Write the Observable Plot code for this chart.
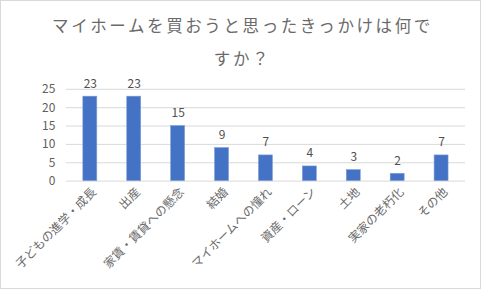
<!DOCTYPE html>
<html>
<head>
<meta charset="utf-8">
<script src="https://cdn.jsdelivr.net/npm/d3@7"></script>
<script src="https://cdn.jsdelivr.net/npm/@observablehq/plot@0.6"></script>
<style>
  html, body { margin: 0; padding: 0; background: #fff; }
  #chart { position: relative; width: 479px; height: 287px; border: 1px solid #d9d9d9; background: #fff; overflow: hidden; }
  #title { position: absolute; left: 2px; top: 8px; width: 479px; text-align: center; font-family: "Noto Sans CJK JP", sans-serif; font-size: 16.5px; line-height: 33px; color: #6a6a6a; letter-spacing: 2.6px; }
  #plot { position: absolute; left: -1px; top: -1px; }
</style>
</head>
<body>
<div id="chart"><div id="plot"></div><div id="title">マイホームを買おうと思ったきっかけは何で<br>すか？</div></div>
<script>
const categories = ["子どもの進学・成長", "出産", "家賃・賃貸への懸念", "結婚", "マイホームへの憧れ", "資産・ローン", "土地", "実家の老朽化", "その他"];
const values = [23, 23, 15, 9, 7, 4, 3, 2, 7];
const yTicks = [0, 5, 10, 15, 20, 25];

const data = categories.map((c, i) => ({category: c, value: values[i]}));

const chart = Plot.plot({
  width: 481,
  height: 289,
  marginTop: 89,
  marginBottom: 108,
  marginLeft: 66,
  marginRight: 15,
  style: {fontFamily: "'Noto Sans CJK JP', sans-serif", fontSize: "12px", color: "#595959", background: "transparent"},
  x: {domain: categories, paddingInner: 0.68, paddingOuter: 0.34, label: null},
  y: {domain: [0, 25], label: null},
  marks: [
    Plot.gridY(yTicks, {stroke: "#d9d9d9", strokeOpacity: 1, strokeWidth: 1}),
    Plot.barY(data, {x: "category", y: "value", fill: "#4472c4", stroke: "#7f9fd8", strokeWidth: 0.6}),
    Plot.text(data, {x: "category", y: "value", text: d => String(d.value), lineAnchor: "bottom", dy: -9, fill: "#505050", fontSize: 12}),
    Plot.axisY(yTicks, {tickSize: 0, tickPadding: 11, fill: "#606060", fontSize: 12, label: null}),
    Plot.axisX({tickSize: 0, tickRotate: -45, tickPadding: 9, dx: 4, fill: "#6a6a6a", fontSize: 12, label: null})
  ]
});
document.getElementById("plot").appendChild(chart);
</script>
</body>
</html>
